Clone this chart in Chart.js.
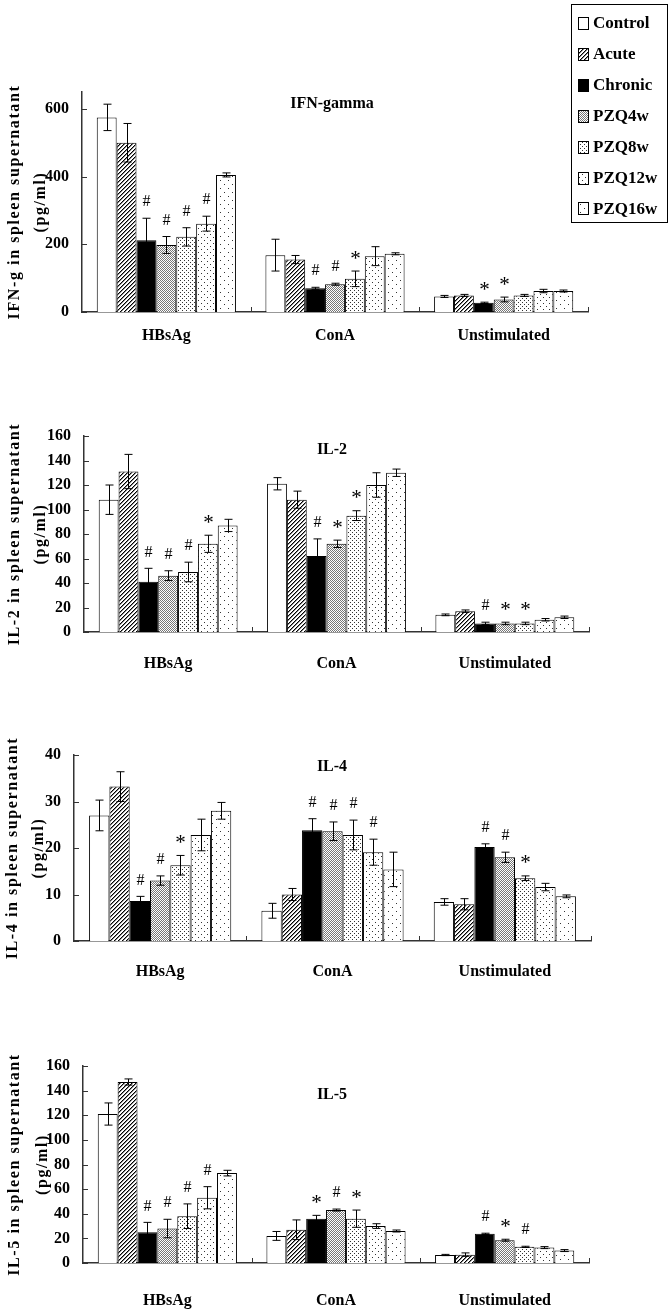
<!DOCTYPE html>
<html>
<head>
<meta charset="UTF-8">
<title>Spleen cytokines</title>
<script src="https://cdn.jsdelivr.net/npm/chart.js@4.4.1/dist/chart.umd.min.js"></script>
<style>
  body { margin: 0; background: #fff; }
  .panel { position: absolute; left: 0; width: 671px; }
</style>
</head>
<body>
<div class="panel" style="top:0px"><canvas id="c1" width="671" height="350"></canvas></div>
<div class="panel" style="top:400px"><canvas id="c2" width="671" height="280"></canvas></div>
<div class="panel" style="top:715px"><canvas id="c3" width="671" height="280"></canvas></div>
<div class="panel" style="top:1035px"><canvas id="c4" width="671" height="280"></canvas></div>
<script>
const groups = ["HBsAg", "ConA", "Unstimulated"];
const seriesNames = ["Control", "Acute", "Chronic", "PZQ4w", "PZQ8w", "PZQ12w", "PZQ16w"];

// rows = series (Control..PZQ16w), columns = groups
const ifnMeans = [[575, 168, 46], [500, 155, 49], [212, 70, 27], [198, 82, 37], [222, 98, 49], [261, 165, 62], [405, 172, 62]];
const ifnErrors = [[39, 47, 3], [57, 12, 3], [65, 3, 2], [25, 3, 7], [27, 23, 3], [22, 28, 5], [6, 3, 3]];
const ifnMarks = [["", "", ""], ["", "", ""], ["#", "#", "*"], ["#", "#", "*"], ["#", "*", ""], ["#", "", ""], ["", "", ""]];
const ifnTicks = [0, 200, 400, 600];

const il2Means = [[108, 121, 14], [131, 108, 17], [41, 62, 7], [46, 72, 7], [49, 95, 7], [72, 120, 10], [87, 130, 12]];
const il2Errors = [[12, 5, 0.7], [14, 7, 1], [11, 14, 1], [4, 3, 1], [8, 4, 1], [7, 10, 1], [5, 3, 1]];
const il2Marks = [["", "", ""], ["", "", ""], ["#", "#", "#"], ["#", "*", "*"], ["#", "*", "*"], ["*", "", ""], ["", "", ""]];
const il2Ticks = [0, 20, 40, 60, 80, 100, 120, 140, 160];

const il4Means = [[27, 6.5, 8.4], [33.2, 10, 7.9], [8.6, 23.8, 20.2], [13, 23.6, 18], [16.3, 22.8, 13.5], [22.8, 19.1, 11.6], [28, 15.4, 9.6]];
const il4Errors = [[3.3, 1.6, 0.7], [3.2, 1.3, 1.2], [1, 2.5, 0.7], [1, 2, 1.1], [2.1, 3.2, 0.5], [3.4, 2.8, 0.8], [1.8, 3.7, 0.3]];
const il4Marks = [["", "", ""], ["", "", ""], ["#", "#", "#"], ["#", "#", "#"], ["*", "#", "*"], ["", "#", ""], ["", "", ""]];
const il4Ticks = [0, 10, 20, 30, 40];

const il5Means = [[121, 22, 6.5], [147, 27, 6.8], [25, 36, 23.7], [28, 43, 18.5], [38, 36, 13.1], [53, 30, 12.5], [73, 26, 10.1]];
const il5Errors = [[9, 3.6, 0.5], [2.5, 8, 1.4], [8, 2.7, 0.5], [7.5, 0.8, 0.8], [10, 7, 0.5], [9, 1.9, 0.8], [2.3, 0.8, 0.8]];
const il5Marks = [["", "", ""], ["", "", ""], ["#", "*", "#"], ["#", "#", "*"], ["#", "*", "#"], ["#", "", ""], ["", "", ""]];
const il5Ticks = [0, 20, 40, 60, 80, 100, 120, 140, 160];

const serif = "'Liberation Serif', 'Times New Roman', serif";

// small pixel tiles for the Excel-like fills
function tile(size, color, pts) {
  const c = document.createElement("canvas");
  c.width = size; c.height = size;
  const g = c.getContext("2d");
  g.fillStyle = "#fff";
  g.fillRect(0, 0, size, size);
  pts.forEach(p => { g.fillStyle = p[2] || color; g.fillRect(p[0], p[1], 1, 1); });
  return g.createPattern(c, "repeat");
}
const fills = [
  "#fff",
  tile(4, "#000", [[3, 0], [2, 1], [1, 2], [0, 3], [0, 0, "#888"], [3, 1, "#888"], [2, 2, "#888"], [1, 3, "#888"]]),
  "#000",
  tile(2, "#777", [[0, 0], [1, 1]]),
  tile(4, "#333", [[0, 0], [2, 2]]),
  tile(6, "#333", [[0, 0], [3, 3]]),
  tile(8, "#333", [[0, 0], [4, 4]])
];

const panels = [
  { id: "c1", title: "IFN-gamma", ytitle: ["IFN-g in spleen supernatant", "(pg/ml)"], means: ifnMeans, errs: ifnErrors, marks: ifnMarks, ticks: ifnTicks, max: 650,
    h: 350, top: 92, bottom: 312, left: 82, right: 588, titleY: 104, labelPad: 14, ytx: [15, 41], legend: true },
  { id: "c2", title: "IL-2", ytitle: ["IL-2 in spleen supernatant", "(pg/ml)"], means: il2Means, errs: il2Errors, marks: il2Marks, ticks: il2Ticks, max: 160,
    h: 280, top: 36, bottom: 232, left: 84, right: 589, titleY: 50, labelPad: 22, ytx: [15, 41] },
  { id: "c3", title: "IL-4", ytitle: ["IL-4 in spleen supernatant", "(pg/ml)"], means: il4Means, errs: il4Errors, marks: il4Marks, ticks: il4Ticks, max: 40,
    h: 280, top: 40, bottom: 226, left: 74, right: 591, titleY: 52, labelPad: 21, ytx: [13, 39] },
  { id: "c4", title: "IL-5", ytitle: ["IL-5 in spleen supernatant", "(pg/ml)"], means: il5Means, errs: il5Errors, marks: il5Marks, ticks: il5Ticks, max: 160,
    h: 280, top: 31, bottom: 228, left: 83, right: 589, titleY: 60, labelPad: 28, ytx: [15, 43] }
];

const extras = {
  id: "extras",
  afterDraw(chart) {
    const p = chart.options.plugins.extras;
    const ctx = chart.ctx, ca = chart.chartArea;
    const ys = chart.scales.y;
    ctx.save();

    // inside tick marks
    ctx.strokeStyle = "#333";
    ctx.lineWidth = 1;
    ctx.beginPath();
    ys.ticks.forEach(t => {
      const y = Math.round(ys.getPixelForValue(t.value)) + 0.5;
      ctx.moveTo(ca.left, y); ctx.lineTo(ca.left + 5, y);
    });
    for (let i = 1; i <= groups.length; i++) {
      const x = Math.round(ca.left + i * (ca.right - ca.left) / groups.length) + 0.5;
      ctx.moveTo(x, ca.bottom); ctx.lineTo(x, ca.bottom - 5);
    }
    ctx.stroke();

    // error bars and significance marks
    ctx.strokeStyle = "#000";
    ctx.fillStyle = "#000";
    ctx.textAlign = "center";
    ctx.textBaseline = "middle";
    p.means.forEach((row, i) => {
      const meta = chart.getDatasetMeta(i);
      row.forEach((v, j) => {
        const e = p.errs[i][j];
        const x = Math.round(meta.data[j].x) + 0.5;
        const yt = ys.getPixelForValue(v + e);
        const yb = ys.getPixelForValue(Math.max(v - e, 0));
        ctx.beginPath();
        ctx.moveTo(x, yt); ctx.lineTo(x, yb);
        ctx.moveTo(x - 4, yt); ctx.lineTo(x + 4, yt);
        ctx.moveTo(x - 4, yb); ctx.lineTo(x + 4, yb);
        ctx.stroke();
        const m = p.marks[i][j];
        if (m === "#") {
          ctx.font = "16px " + serif;
          ctx.fillText("#", x, yt - 16);
        } else if (m === "*") {
          ctx.font = "21px " + serif;
          ctx.fillText("*", x, yt - 12);
        }
      });
    });

    // panel title
    ctx.font = "bold 16px " + serif;
    ctx.fillText(p.title, 332, p.titleY);

    // y axis title, two rotated lines
    const cy = (ca.top + ca.bottom) / 2;
    ctx.font = "bold 16px " + serif;
    ctx.letterSpacing = "1.6px";
    p.ytitle.forEach((line, k) => {
      ctx.save();
      ctx.translate(p.ytx[k], cy);
      ctx.rotate(-Math.PI / 2);
      ctx.fillText(line, 0, 0);
      ctx.restore();
    });
    ctx.letterSpacing = "0px";

    // legend box
    if (p.legend) {
      ctx.strokeStyle = "#000";
      ctx.lineWidth = 1;
      ctx.strokeRect(571.5, 4.5, 96, 218);
      ctx.textAlign = "left";
      ctx.font = "bold 17px " + serif;
      seriesNames.forEach((name, k) => {
        const y = 23 + k * 30.9;
        ctx.fillStyle = fills[k];
        ctx.fillRect(578, Math.round(y - 6), 10, 12);
        ctx.strokeRect(578.5, Math.round(y - 6) + 0.5, 10, 12);
        ctx.fillStyle = "#000";
        ctx.fillText(name, 593, y + 1);
      });
    }
    ctx.restore();
  }
};

panels.forEach(p => {
  const datasets = seriesNames.map((name, i) => ({
    label: name,
    data: p.means[i],
    backgroundColor: fills[i],
    borderColor: "#000",
    borderWidth: 1,
    barPercentage: 1,
    categoryPercentage: 0.825
  }));
  new Chart(document.getElementById(p.id), {
    type: "bar",
    data: { labels: groups, datasets: datasets },
    plugins: [extras],
    options: {
      responsive: false,
      animation: false,
      layout: { padding: { top: p.top, right: 671 - p.right, left: 0, bottom: 0 } },
      plugins: {
        legend: { display: false },
        tooltip: { enabled: false },
        extras: p
      },
      scales: {
        x: {
          grid: { display: false, drawTicks: false },
          border: { color: "#333", width: 1.5 },
          ticks: { color: "#000", padding: p.labelPad, maxRotation: 0, font: { family: serif, size: 16, weight: "bold" } },
          afterFit: s => { s.height = p.h - p.bottom; }
        },
        y: {
          min: 0,
          max: p.max,
          afterBuildTicks: s => { s.ticks = p.ticks.map(v => ({ value: v })); },
          grid: { display: false, drawTicks: false },
          border: { color: "#333", width: 1.5 },
          ticks: { color: "#000", padding: 13, font: { family: serif, size: 16, weight: "bold" } },
          afterFit: s => { s.width = p.left; }
        }
      }
    }
  });
});
</script>
</body>
</html>
